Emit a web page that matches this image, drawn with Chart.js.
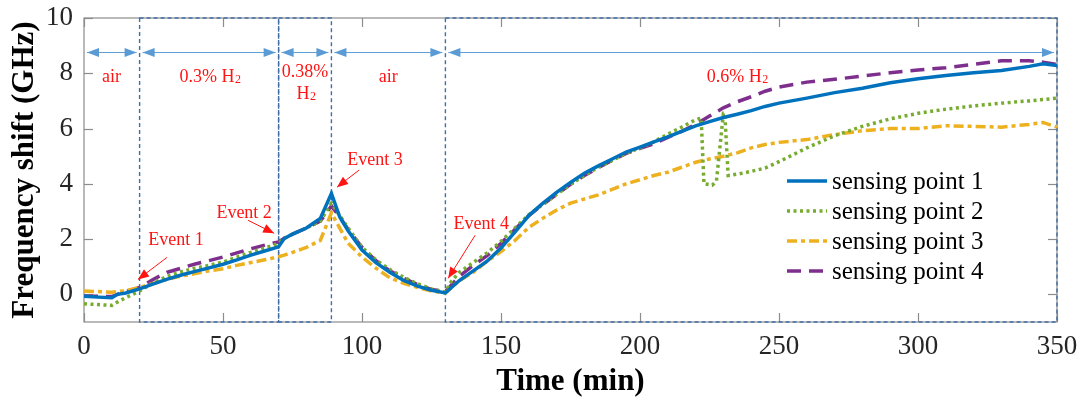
<!DOCTYPE html>
<html>
<head>
<meta charset="utf-8">
<script src="https://cdn.jsdelivr.net/npm/chart.js@4.4.1/dist/chart.umd.min.js"></script>
<style>
html, body { margin: 0; padding: 0; background: #fff; }
#main { width: 1081px; height: 401px; }
</style>
</head>
<body>
<div id="main"><canvas id="myChart"></canvas></div>
<script>
// time axis (min) shared by sensing points 1, 3, 4
var timeMin = [0, 5, 10, 12, 15, 20, 25, 30, 35, 40,
    45, 50, 55, 60, 65, 70, 72, 75, 80, 85,
    89, 92, 95, 100, 105, 110, 115, 120, 125, 130,
    135, 140, 145, 150, 155, 160, 165, 170, 175, 180, 185, 190, 195, 200, 205, 210, 215, 220,
    225, 230, 235, 240, 245, 250,
    260, 270, 280, 290, 300, 310, 320, 330, 340,
    345, 350];
// sensing point 2 has its own times (the glitch near 225 min)
var timeGreen = [0, 5, 10, 12, 15, 20, 25, 30, 35, 40,
    45, 50, 55, 60, 65, 70, 72, 75, 80, 85,
    89, 92, 95, 100, 105, 110, 115, 120, 125, 130,
    132, 135, 140, 145, 150, 155, 160, 165, 170, 175, 180, 185, 190, 195, 200, 205, 210, 215, 220,
    222, 223, 226, 227.5, 230, 230.5, 231.7,
    235, 240, 245, 250, 255, 260, 265, 270,
    280, 290, 300, 310, 320, 330, 340, 345, 350];

var point1 = [-0.07, -0.1, -0.12, 0.0, 0.05, 0.2, 0.38, 0.55, 0.7, 0.83,
    0.96, 1.09, 1.25, 1.42, 1.57, 1.72, 2.02, 2.18, 2.4, 2.75,
    3.65, 2.8, 2.3, 1.6, 1.15, 0.8, 0.5, 0.3, 0.15, 0.05,
    0.5, 0.85, 1.2, 1.68, 2.25, 2.85, 3.29, 3.69, 4.05, 4.38, 4.65, 4.9, 5.15, 5.33, 5.52, 5.7, 5.9, 6.1,
    6.25, 6.4, 6.52, 6.65, 6.8, 6.92,
    7.1, 7.3, 7.46, 7.66, 7.8, 7.92, 8.02, 8.1, 8.25,
    8.34, 8.28];
var point2 = [-0.34, -0.37, -0.4, -0.28, -0.12, 0.12, 0.42, 0.65, 0.82, 0.95,
    1.05, 1.17, 1.35, 1.52, 1.68, 1.84, 2.02, 2.18, 2.4, 2.65,
    3.3, 2.85, 2.4, 1.7, 1.25, 0.9, 0.62, 0.38, 0.2, 0.08,
    0.45, 0.8, 1.15, 1.5, 1.92, 2.4, 2.88, 3.25, 3.62, 3.98, 4.3, 4.6, 4.85, 5.1, 5.3, 5.52, 5.8, 6.05, 6.32,
    6.38, 4.0, 3.95, 4.1, 6.55, 6.55, 4.3,
    4.35, 4.45, 4.57, 4.8, 5.05, 5.3, 5.52, 5.74,
    6.08, 6.35, 6.55, 6.7, 6.82, 6.92, 7.0, 7.05, 7.1];
var point3 = [0.12, 0.1, 0.08, 0.1, 0.13, 0.25, 0.4, 0.55, 0.66, 0.75,
    0.85, 0.93, 1.05, 1.15, 1.25, 1.36, 1.42, 1.52, 1.7, 1.95,
    2.95, 2.4, 1.85, 1.35, 0.95, 0.6, 0.4, 0.25, 0.12, 0.05,
    0.5, 0.8, 1.2, 1.55, 1.95, 2.42, 2.75, 3.05, 3.3, 3.45, 3.6, 3.8, 4.0, 4.15, 4.3, 4.42, 4.6, 4.78,
    4.9, 5.0, 5.12, 5.3, 5.42, 5.5,
    5.6, 5.78, 5.92, 6.0, 6.0, 6.1, 6.08, 6.05, 6.15,
    6.22, 6.05];
var point4 = [-0.07, -0.07, -0.08, 0.0, 0.1, 0.25, 0.55, 0.8, 0.95, 1.1,
    1.22, 1.35, 1.5, 1.65, 1.78, 1.9, 2.03, 2.18, 2.4, 2.65,
    3.2, 2.8, 2.35, 1.7, 1.22, 0.85, 0.58, 0.35, 0.18, 0.1,
    0.65, 1.05, 1.4, 1.85, 2.35, 2.85, 3.25, 3.62, 3.98, 4.3, 4.58, 4.85, 5.1, 5.28, 5.45, 5.68, 5.9, 6.15,
    6.45, 6.75, 6.97, 7.15, 7.35, 7.5,
    7.68, 7.78, 7.9, 8.02, 8.12, 8.2, 8.32, 8.45, 8.45,
    8.4, 8.32];

var xTicks = [0, 50, 100, 150, 200, 250, 300, 350];
var yTicks = [0, 2, 4, 6, 8, 10];

// gas phases: boundaries (min) and their labels
var phaseBounds = [0, 20, 70, 89, 130, 350];
var gasBoxes = [[20, 70], [70, 89], [130, 350]];
var phaseText = [
    {t: 9.9, v: 7.7, main: 'air', sub: ''},
    {t: 45.3, v: 7.7, main: '0.3% H', sub: '2'},
    {t: 79.5, v: 7.86, main: '0.38%', sub: ''},
    {t: 79.9, v: 7.07, main: 'H', sub: '2'},
    {t: 109.4, v: 7.7, main: 'air', sub: ''},
    {t: 235, v: 7.7, main: '0.6% H', sub: '2'}
];
var events = [
    {text: 'Event 1', t: 33.1, v: 1.78, from: [29.9, 1.34], to: [19.4, 0.54]},
    {text: 'Event 2', t: 57.6, v: 2.78, from: [59.0, 2.68], to: [68.4, 2.21]},
    {text: 'Event 3', t: 104.7, v: 4.68, from: [99.0, 4.5], to: [91.0, 3.88]},
    {text: 'Event 4', t: 142.9, v: 2.35, from: [140.7, 2.14], to: [131.0, 0.58]}
];
var arrowY = 8.75;

var serif = '"Liberation Serif", "Times New Roman", serif';

var pts = function(times, vals) {
    return times.map(function(t, i) { return {x: t, y: vals[i]}; });
};

var headAt = function(c, x0, y0, x1, y1, len, wid) {
    var ang = Math.atan2(y1 - y0, x1 - x0);
    c.beginPath();
    c.moveTo(x1, y1);
    c.lineTo(x1 - len * Math.cos(ang) + wid / 2 * Math.sin(ang), y1 - len * Math.sin(ang) - wid / 2 * Math.cos(ang));
    c.lineTo(x1 - len * Math.cos(ang) - wid / 2 * Math.sin(ang), y1 - len * Math.sin(ang) + wid / 2 * Math.cos(ang));
    c.closePath();
    c.fill();
};

var line = function(c, x0, y0, x1, y1) {
    c.beginPath(); c.moveTo(x0, y0); c.lineTo(x1, y1); c.stroke();
};

var drawSubText = function(c, item, x, y) {
    c.font = '18px ' + serif;
    var w1 = c.measureText(item.main).width;
    c.font = '12px ' + serif;
    var w2 = item.sub ? c.measureText(item.sub).width : 0;
    var sx = x - (w1 + w2) / 2;
    c.textAlign = 'left';
    c.textBaseline = 'alphabetic';
    c.font = '18px ' + serif;
    c.fillText(item.main, sx, y);
    if (item.sub) {
        c.font = '12px ' + serif;
        c.fillText(item.sub, sx + w1 + 0.5, y + 1);
    }
};

var decorPlugin = {
    id: 'decor',
    beforeDatasetsDraw: function(chart) {
        var c = chart.ctx, a = chart.chartArea, xs = chart.scales.x, ys = chart.scales.y;
        c.save();
        // axis box + inward ticks
        c.strokeStyle = '#8c8c8c';
        c.lineWidth = 1.2;
        c.strokeRect(a.left, a.top, a.right - a.left, a.bottom - a.top);
        xTicks.forEach(function(v) {
            var px = Math.round(xs.getPixelForValue(v)) + 0.5;
            line(c, px, a.bottom, px, a.bottom - 9);
            line(c, px, a.top, px, a.top + 9);
        });
        yTicks.forEach(function(v) {
            var py = Math.round(ys.getPixelForValue(v)) + 0.5;
            line(c, a.left, py, a.left + 9, py);
            line(c, a.right, py, a.right - 9, py);
        });
        // dashed gas boxes
        c.setLineDash([4, 3]);
        c.strokeStyle = '#3f6fa6';
        c.lineWidth = 1.4;
        gasBoxes.forEach(function(b) {
            var x0 = xs.getPixelForValue(b[0]), x1 = xs.getPixelForValue(b[1]);
            var y0 = ys.getPixelForValue(10), y1 = ys.getPixelForValue(-1);
            c.strokeRect(x0, y0, x1 - x0, y1 - y0);
        });
        c.restore();
    },
    afterDatasetsDraw: function(chart) {
        var c = chart.ctx, a = chart.chartArea, xs = chart.scales.x, ys = chart.scales.y;
        c.save();
        // phase arrows
        c.strokeStyle = '#5b9bd5';
        c.fillStyle = '#5b9bd5';
        c.lineWidth = 1;
        var ay = ys.getPixelForValue(arrowY);
        for (var i = 0; i < phaseBounds.length - 1; i++) {
            var x0 = xs.getPixelForValue(phaseBounds[i]) + 3;
            var x1 = xs.getPixelForValue(phaseBounds[i + 1]) - 3;
            line(c, x0, ay, x1, ay);
            headAt(c, x1, ay, x0, ay, 12, 9);
            headAt(c, x0, ay, x1, ay, 12, 9);
        }
        // phase labels
        c.fillStyle = '#ff1414';
        phaseText.forEach(function(p) {
            drawSubText(c, p, xs.getPixelForValue(p.t), ys.getPixelForValue(p.v));
        });
        // events
        c.strokeStyle = '#ff1414';
        c.lineWidth = 1;
        events.forEach(function(e) {
            c.font = '18px ' + serif;
            c.textAlign = 'center';
            c.textBaseline = 'alphabetic';
            c.fillText(e.text, xs.getPixelForValue(e.t), ys.getPixelForValue(e.v));
            var fx = xs.getPixelForValue(e.from[0]), fy = ys.getPixelForValue(e.from[1]);
            var tx = xs.getPixelForValue(e.to[0]), ty = ys.getPixelForValue(e.to[1]);
            line(c, fx, fy, tx, ty);
            headAt(c, fx, fy, tx, ty, 11, 9);
        });
        // legend
        var lx = 787, ly = 181;
        chart.data.datasets.forEach(function(ds, k) {
            var yy = ly + k * 30;
            c.setLineDash(ds.borderDash || []);
            c.strokeStyle = ds.borderColor;
            c.lineWidth = ds.borderWidth;
            line(c, lx, yy, lx + 40, yy);
            c.setLineDash([]);
            c.fillStyle = '#000';
            c.font = '25px ' + serif;
            c.textAlign = 'left';
            c.textBaseline = 'alphabetic';
            c.fillText(ds.label, lx + 45, yy + 8);
        });
        c.restore();
    }
};

var ctx = document.getElementById('myChart');
var myLineChart = new Chart(ctx, {
    type: 'line',
    data: {
        datasets: [{
            label: 'sensing point 1',
            data: pts(timeMin, point1),
            borderColor: '#0072bd',
            borderWidth: 3.5
        }, {
            label: 'sensing point 2',
            data: pts(timeGreen, point2),
            borderColor: '#77ac30',
            borderWidth: 3.5,
            borderDash: [3, 3.5]
        }, {
            label: 'sensing point 3',
            data: pts(timeMin, point3),
            borderColor: '#edb120',
            borderWidth: 3.5,
            borderDash: [10, 4, 4, 4]
        }, {
            label: 'sensing point 4',
            data: pts(timeMin, point4),
            borderColor: '#7e2f8e',
            borderWidth: 3.5,
            borderDash: [14, 8]
        }]
    },
    options: {
        responsive: true,
        maintainAspectRatio: false,
        animation: false,
        events: [],
        layout: {padding: {top: 18, right: 24, left: 0, bottom: 0}},
        elements: {
            point: {radius: 0},
            line: {tension: 0, borderCapStyle: 'butt', fill: false}
        },
        plugins: {legend: {display: false}, tooltip: {enabled: false}},
        scales: {
            x: {
                type: 'linear',
                min: 0,
                max: 350,
                afterBuildTicks: function(s) { s.ticks = xTicks.map(function(v) { return {value: v}; }); },
                afterFit: function(s) { s.height = 79; s.paddingLeft = 0; s.paddingRight = 0; },
                grid: {display: false, drawTicks: false},
                border: {display: false},
                ticks: {font: {family: serif, size: 27}, color: '#262626', padding: 9, maxRotation: 0},
                title: {display: true, text: 'Time (min)', color: '#000',
                    font: {family: serif, size: 31, weight: 'bold'}, padding: {top: 0, bottom: 0}}
            },
            y: {
                min: -1,
                max: 10,
                afterBuildTicks: function(s) { s.ticks = yTicks.map(function(v) { return {value: v}; }); },
                afterFit: function(s) { s.width = 84; s.paddingTop = 0; s.paddingBottom = 0; },
                grid: {display: false, drawTicks: false},
                border: {display: false},
                ticks: {font: {family: serif, size: 27}, color: '#262626', padding: 11},
                title: {display: true, text: 'Frequency shift (GHz)', color: '#000',
                    font: {family: serif, size: 31, weight: 'bold'}, padding: {top: 6, bottom: 0}}
            }
        }
    },
    plugins: [decorPlugin]
});
</script>
</body>
</html>
